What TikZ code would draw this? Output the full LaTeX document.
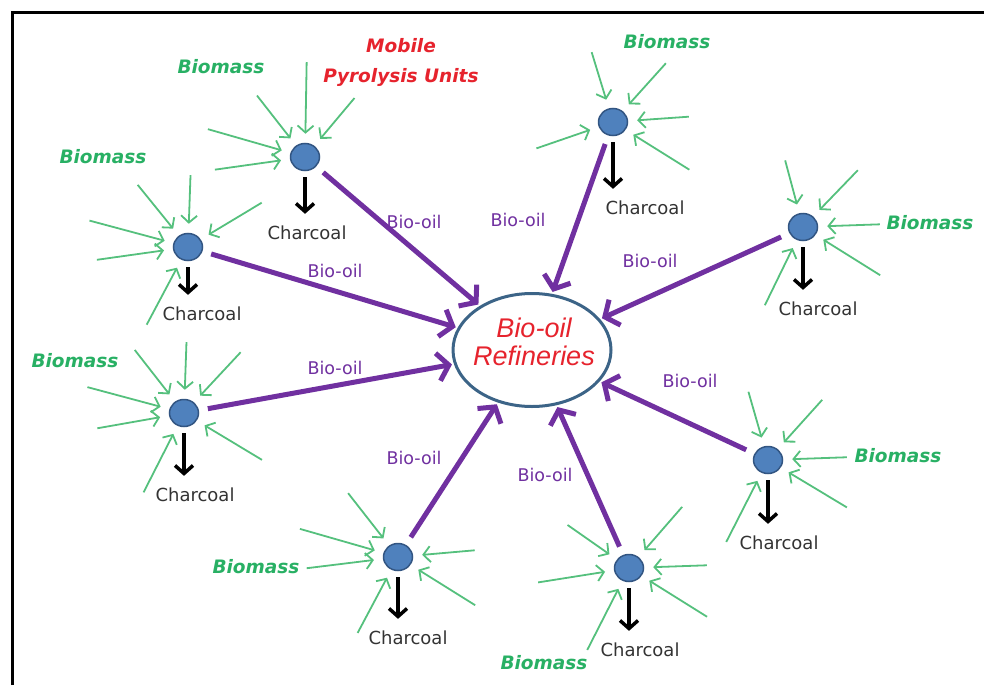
\documentclass[tikz,border=0pt]{standalone}
\usepackage{fontspec}
\setmainfont{DejaVu Sans}
\newfontfamily\arialfont{Liberation Sans}
\usetikzlibrary{shapes,positioning,calc,arrows.meta}
\definecolor{oilpurple}{RGB}{112,48,160}
\definecolor{feedgreen}{RGB}{85,192,125}
\definecolor{biogreen}{RGB}{40,176,100}
\definecolor{unitblue}{RGB}{79,129,189}
\definecolor{unitedge}{RGB}{50,85,130}
\definecolor{refedge}{RGB}{60,100,135}
\definecolor{labelred}{RGB}{230,35,45}

\begin{document}
\begin{tikzpicture}[x=1pt,y=-1pt,
    unit/.style={ellipse,draw=unitedge,fill=unitblue,line width=1.5pt,minimum width=29pt,minimum height=27pt,inner sep=0pt},
    refinery/.style={ellipse,draw=refedge,line width=3pt,minimum width=158pt,minimum height=113pt},
    reflabel/.style={align=center,text=labelred,inner sep=0pt,font=\arialfont\itshape\fontsize{27}{28}\selectfont},
    mobile/.style={align=center,text=labelred,inner sep=0pt,font=\bfseries\itshape\fontsize{18.5}{30}\selectfont},
    feed/.style={draw=feedgreen,line width=1.8pt,-{Straight Barb[length=7pt,width=16pt]},shorten >=9pt},
    oil/.style={draw=oilpurple,line width=5pt,-{Straight Barb[length=11pt,width=28pt]},shorten <=9pt,shorten >=2pt},
    oillabel/.style={text=oilpurple,inner sep=0pt,font=\fontsize{17.5}{19}\selectfont},
    coal/.style={draw=black,line width=3.5pt,-{Straight Barb[length=8pt,width=18pt]},shorten <=6pt,shorten >=12pt},
    coallabel/.style={text=black!80,inner sep=0pt,font=\fontsize{18}{20}\selectfont},
    biomass/.style={text=biogreen,inner sep=0pt,font=\bfseries\itshape\fontsize{18.5}{21}\selectfont}]

    \useasboundingbox (0,0) rectangle (984,685);
    \draw [line width=3pt] (12.5,685) -- (12.5,12.5) -- (984,12.5);

    % Refinery
    \node [refinery] (ref) at (532,350) {};
    \node [reflabel] (reftext) at (534,342) {Bio-oil\\Refineries};

    % Pyrolysis units
    \node [unit] (u1) at (305,157) {};
    \node [unit] (u2) at (188,247) {};
    \node [unit] (u3) at (184,413) {};
    \node [unit] (u4) at (398,557) {};
    \node [unit] (u5) at (629,568) {};
    \node [unit] (u6) at (768,460) {};
    \node [unit] (u7) at (803,227) {};
    \node [unit] (u8) at (613,122) {};

    \node [mobile] (mpu) at (401,62) {Mobile\\Pyrolysis Units};

    % Biomass in
    \foreach \a/\r in {-89/95,-128/78,-50/77,-164/101,172/91}
        \draw [feed] ([shift={(\a:\r)}]u1.center) -- (u1);
    \foreach \a/\r in {-88/72,-129/80,-31/86,-165/102,172/92,118/88}
        \draw [feed] ([shift={(\a:\r)}]u2.center) -- (u2);
    \foreach \a/\r in {-88/71,-128/80,-47/83,-165/100,170/88,117/89,31/91}
        \draw [feed] ([shift={(\a:\r)}]u3.center) -- (u3);
    \foreach \a/\r in {-128/81,-164/102,173/92,118/86,-5/77,32/91}
        \draw [feed] ([shift={(\a:\r)}]u4.center) -- (u4);
    \foreach \a/\r in {-145/75,-49/81,171/92,-2/78,117/92,32/92}
        \draw [feed] ([shift={(\a:\r)}]u5.center) -- (u5);
    \foreach \a/\r in {-106/71,-48/81,-2/79,31/92,117/92}
        \draw [feed] ([shift={(\a:\r)}]u6.center) -- (u6);
    \foreach \a/\r in {-105/69,-46/79,-2/77,32/91,116/87}
        \draw [feed] ([shift={(\a:\r)}]u7.center) -- (u7);
    \foreach \a/\r in {-107/73,-48/79,-4/76,32/90,161/81}
        \draw [feed] ([shift={(\a:\r)}]u8.center) -- (u8);

    \node [biomass] (bm1) at (221,67) {Biomass};
    \node [biomass] (bm2) at (103,157) {Biomass};
    \node [biomass] (bm3) at (75,361) {Biomass};
    \node [biomass] (bm4) at (256,567) {Biomass};
    \node [biomass] (bm5) at (544,663) {Biomass};
    \node [biomass] (bm6) at (898,456) {Biomass};
    \node [biomass] (bm7) at (930,223) {Biomass};
    \node [biomass] (bm8) at (667,42) {Biomass};

    % Bio-oil out
    \foreach \i in {1,...,8}
        \draw [oil] (u\i) -- (ref);

    \node [oillabel] (oil1) at (414,222) {Bio-oil};
    \node [oillabel] (oil2) at (335,271) {Bio-oil};
    \node [oillabel] (oil3) at (335,368) {Bio-oil};
    \node [oillabel] (oil4) at (414,458) {Bio-oil};
    \node [oillabel] (oil5) at (545,475) {Bio-oil};
    \node [oillabel] (oil6) at (690,381) {Bio-oil};
    \node [oillabel] (oil7) at (650,261) {Bio-oil};
    \node [oillabel] (oil8) at (518,220) {Bio-oil};

    % Charcoal out
    \node [coallabel] (c1) at (307,233) {Charcoal};
    \node [coallabel] (c2) at (202,314) {Charcoal};
    \node [coallabel] (c3) at (195,495) {Charcoal};
    \node [coallabel] (c4) at (408,638) {Charcoal};
    \node [coallabel] (c5) at (640,650) {Charcoal};
    \node [coallabel] (c6) at (779,543) {Charcoal};
    \node [coallabel] (c7) at (818,309) {Charcoal};
    \node [coallabel] (c8) at (645,208) {Charcoal};

    \foreach \i in {1,...,8}
        \draw [coal] (u\i) -- (u\i |- c\i.north);

\end{tikzpicture}
\end{document}
